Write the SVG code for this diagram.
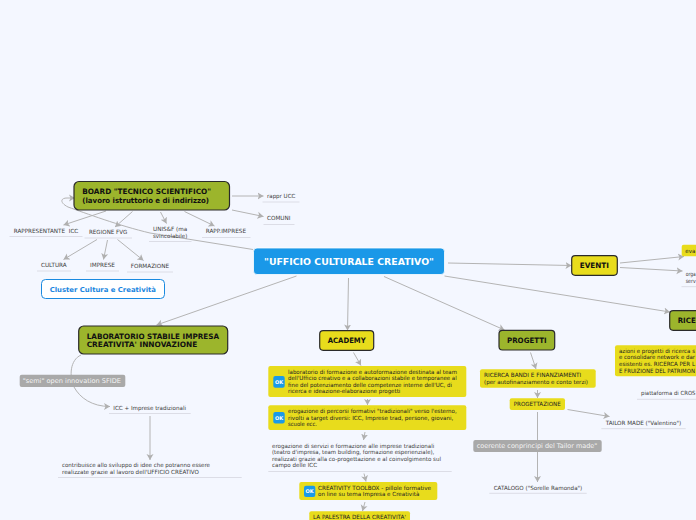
<svg xmlns="http://www.w3.org/2000/svg" width="696" height="520" viewBox="0 0 696 520">
<defs>
<marker id="a" markerUnits="userSpaceOnUse" markerWidth="7" markerHeight="8" refX="6" refY="4" orient="auto"><path d="M0 0.5L6 4L0 7.5L1.500 4Z" fill="#b0b0b0"/></marker>
</defs>
<style>
text{font-family:"DejaVu Sans",Verdana,sans-serif;font-size:5.7px;fill:#3c3c3c}
.b{font-weight:bold;fill:#111;font-size:7.400px}
.g{fill:#9cb52c;stroke:#2a2a2a;stroke-width:1.200}
.y{fill:#e8dc1c;stroke:#2a2a2a;stroke-width:1.200}
.s{fill:#e8dc1c}
.l{stroke:#dcdde6;stroke-width:1;fill:none}
.c{fill:none;stroke:#b4b4b4;stroke-width:1;marker-end:url(#a)}
.gr{fill:#a9a9a9}
.w{fill:#f4f4f4;font-size:6.600px}
.ok{fill:#1a9ae8}
.okt{fill:#fff;font-size:5px;font-weight:bold}
.d{fill:#222}
</style>
<rect width="696" height="520" fill="#f4f7ff"/>
<g id="connectors">
<path class="c" d="M253 249.500L150 233C120 226 85 213 68 207C60 203 60 198 67 198L75 198"/>
<path class="c" d="M232 196L263.500 196"/>
<path class="c" d="M232 210L263.500 216.500"/>
<path class="c" d="M106 211L63.500 225"/>
<path class="c" d="M132.500 211.500L115 227"/>
<path class="c" d="M160.500 212L166.500 223.500"/>
<path class="c" d="M184.500 211.500L214.500 226"/>
<path class="c" d="M97 239.500L63.500 259.500"/>
<path class="c" d="M107.500 240L103.500 259.500"/>
<path class="c" d="M117.500 239.500L143.500 260.500"/>
<path class="c" d="M296.500 276L156.500 325"/>
<path class="c" d="M348.500 278L347.500 330.500"/>
<path class="c" d="M384 276.500L504.500 330"/>
<path class="c" d="M448 263L571.500 265.500"/>
<path class="c" d="M444.500 276L670 312"/>
<path class="c" d="M620 263L684 256.500"/>
<path class="c" d="M620 267.500L682.500 271"/>
<path class="c" d="M81 355C70 360 69 376 74 387C80 398 92 406.500 110 406.500"/>
<path class="c" d="M150 416L150 460"/>
<path class="c" d="M353.500 352.500L361 365.500"/>
<path class="c" d="M367.500 399L367.500 405"/>
<path class="c" d="M365 432L363.500 440"/>
<path class="c" d="M364 473.500L366 481.500"/>
<path class="c" d="M365 502L362.500 511"/>
<path class="c" d="M530.500 352.500L536 369"/>
<path class="c" d="M537.500 390L537.500 398"/>
<path class="c" d="M567.500 409.500L609.500 416.500"/>
<path class="c" d="M537.500 412L537.500 482"/>
</g>
<g id="board"><rect class="g" x="74" y="181.500" width="155.500" height="28.500" rx="5"/><text class="b" x="82.300" y="194" textLength="128.700" lengthAdjust="spacingAndGlyphs">BOARD "TECNICO SCIENTIFICO"</text><text class="b" x="82.300" y="202.700" textLength="126.700" lengthAdjust="spacingAndGlyphs">(lavoro istruttorio e di indirizzo)</text></g>
<g id="rappr-icc"><path class="l" d="M9.500 236.500H82.500"/><text x="13.700" y="233" xml:space="preserve" textLength="64.600" lengthAdjust="spacingAndGlyphs">RAPPRESENTANTE  ICC</text></g>
<g id="regione"><path class="l" d="M84.500 238H132"/><text x="89" y="233.700" textLength="38.300" lengthAdjust="spacingAndGlyphs">REGIONE FVG</text></g>
<g id="unisf"><path class="l" d="M149 241.500H191.500"/><text x="153" y="231" textLength="34.300" lengthAdjust="spacingAndGlyphs">UNIS&amp;F (ma</text><text x="153" y="237.700" textLength="34.300" lengthAdjust="spacingAndGlyphs">svincolabile)</text></g>
<g id="rapp-imprese"><path class="l" d="M202 237.500H250.500"/><text x="205.700" y="233" textLength="40.300" lengthAdjust="spacingAndGlyphs">RAPP.IMPRESE</text></g>
<g id="rappr-ucc"><path class="l" d="M262.500 202H299.500"/><text x="267" y="198" textLength="28.300" lengthAdjust="spacingAndGlyphs">rappr UCC</text></g>
<g id="comuni"><path class="l" d="M263.500 224.500H294.500"/><text x="267" y="220" textLength="23.300" lengthAdjust="spacingAndGlyphs">COMUNI</text></g>
<g id="cultura"><path class="l" d="M37 271H71"/><text x="41" y="267" textLength="25.700" lengthAdjust="spacingAndGlyphs">CULTURA</text></g>
<g id="imprese"><path class="l" d="M86 271H119"/><text x="90" y="266.700" textLength="25" lengthAdjust="spacingAndGlyphs">IMPRESE</text></g>
<g id="formazione"><path class="l" d="M127 272H173"/><text x="130.700" y="267.700" textLength="38.300" lengthAdjust="spacingAndGlyphs">FORMAZIONE</text></g>
<g id="cluster"><rect x="41.500" y="279.500" width="123" height="19" rx="4" fill="#fff" stroke="#1a8ae0" stroke-width="1"/><text x="49.700" y="291.700" textLength="106.300" lengthAdjust="spacingAndGlyphs" style="font-weight:bold;font-size:6.800px;fill:#1a86e0">Cluster Cultura e Creatività</text></g>
<g id="root"><rect x="253.500" y="248" width="191" height="26.500" rx="3.500" fill="#1a98e8" stroke="#fff" stroke-width="0.800"/><text x="264" y="264.700" textLength="170" lengthAdjust="spacingAndGlyphs" style="font-weight:bold;font-size:8.800px;fill:#fff">"UFFICIO CULTURALE CREATIVO"</text></g>
<g id="laboratorio"><rect class="g" x="78.700" y="326" width="149" height="28" rx="5"/><text class="b" x="86.700" y="339" textLength="132.300" lengthAdjust="spacingAndGlyphs">LABORATORIO STABILE IMPRESA</text><text class="b" x="86.700" y="347" textLength="110.600" lengthAdjust="spacingAndGlyphs">CREATIVITA' INNOVAZIONE</text></g>
<g id="semi"><rect class="gr" x="19.700" y="374.700" width="105.600" height="12.300" rx="2"/><text class="w" x="22.700" y="383" textLength="98.300" lengthAdjust="spacingAndGlyphs">"semi" open innovation SFIDE</text></g>
<g id="icc-imprese"><path class="l" d="M109 413.500H190.700"/><text x="113.300" y="410" textLength="72.700" lengthAdjust="spacingAndGlyphs">ICC + Imprese tradizionali</text></g>
<g id="contribuisce"><path class="l" d="M58 477.500H241.700"/><text x="62" y="467" textLength="148" lengthAdjust="spacingAndGlyphs">contribuisce allo sviluppo di idee che potranno essere</text><text x="62" y="473.700" textLength="137" lengthAdjust="spacingAndGlyphs">realizzate grazie al lavoro dell'UFFICIO CREATIVO</text></g>
<g id="academy"><rect class="y" x="319.700" y="330.700" width="54" height="19.600" rx="3.500"/><text class="b" x="327.700" y="343" textLength="38" lengthAdjust="spacingAndGlyphs">ACADEMY</text></g>
<g id="a1"><rect class="s" x="268.300" y="366" width="198" height="31" rx="2"/><rect class="ok" x="273.300" y="376" width="11.400" height="11.700" rx="2"/><text class="okt" x="279" y="383.800" text-anchor="middle">OK</text><text class="d" x="288" y="374" textLength="169" lengthAdjust="spacingAndGlyphs">laboratorio di formazione e autoformazione destinata al team</text><text class="d" x="288" y="380" textLength="168.700" lengthAdjust="spacingAndGlyphs">dell'Ufficio creativo e a collaborazioni stabile e temporanee al</text><text class="d" x="288" y="386.700" textLength="164" lengthAdjust="spacingAndGlyphs">fine del potenziamento delle competenze interne dell'UC, di</text><text class="d" x="288" y="393" textLength="112.300" lengthAdjust="spacingAndGlyphs">ricerca e ideazione-elaborazione progetti</text></g>
<g id="a2"><rect class="s" x="268.300" y="405.300" width="198" height="24.700" rx="2"/><rect class="ok" x="273.300" y="412" width="11.400" height="11.400" rx="2"/><text class="okt" x="279" y="419.600" text-anchor="middle">OK</text><text class="d" x="288" y="413" textLength="168.700" lengthAdjust="spacingAndGlyphs">erogazione di percorsi formativi "tradizionali" verso l'esterno,</text><text class="d" x="288" y="419.700" textLength="165.300" lengthAdjust="spacingAndGlyphs">rivolti a target diversi: ICC, Imprese trad, persone, giovani,</text><text class="d" x="288" y="426" textLength="29" lengthAdjust="spacingAndGlyphs">scuole ecc.</text></g>
<g id="a3"><path class="l" d="M268.300 471.500H451.700"/><text x="272" y="448" textLength="162.300" lengthAdjust="spacingAndGlyphs">erogazione di servizi e formazione alle imprese tradizionali</text><text x="272" y="454.300" textLength="162.300" lengthAdjust="spacingAndGlyphs">(teatro d'impresa, team building, formazione esperienziale),</text><text x="272" y="460.700" textLength="169" lengthAdjust="spacingAndGlyphs">realizzati grazie alla co-progettazione e al coinvolgimento sul</text><text x="272" y="467" textLength="45" lengthAdjust="spacingAndGlyphs">campo delle ICC</text></g>
<g id="a4"><rect class="s" x="299.300" y="482" width="138" height="18" rx="2"/><rect class="ok" x="304" y="485.700" width="11.300" height="11.300" rx="2"/><text class="okt" x="309.600" y="493.200" text-anchor="middle">OK</text><text class="d" x="318" y="489.700" textLength="113" lengthAdjust="spacingAndGlyphs">CREATIVITY TOOLBOX - pillole formative</text><text class="d" x="318" y="496" textLength="101.300" lengthAdjust="spacingAndGlyphs">on line su tema Impresa e Creatività</text></g>
<g id="a5"><rect class="s" x="309.300" y="511.300" width="100.700" height="14" rx="2"/><text class="d" x="313" y="518.500" textLength="93" lengthAdjust="spacingAndGlyphs">LA PALESTRA DELLA CREATIVITA'</text></g>
<g id="progetti"><rect class="g" x="499" y="330.300" width="55.700" height="19.700" rx="3.500"/><text class="b" x="507" y="342.700" textLength="39.700" lengthAdjust="spacingAndGlyphs">PROGETTI</text></g>
<g id="ricerca-bandi"><rect class="s" x="480" y="369.300" width="115.700" height="18.400" rx="2"/><text class="d" x="484" y="377" textLength="97.300" lengthAdjust="spacingAndGlyphs">RICERCA BANDI E FINANZIAMENTI</text><text class="d" x="484" y="383.700" textLength="104" lengthAdjust="spacingAndGlyphs">(per autofinanziamento e conto terzi)</text></g>
<g id="progettazione"><rect class="s" x="509.700" y="398.300" width="55.300" height="11.700" rx="2"/><text class="d" x="513.700" y="406" textLength="47" lengthAdjust="spacingAndGlyphs">PROGETTAZIONE</text></g>
<g id="tailor"><path class="l" d="M601.300 428.700H685.700"/><text x="605.700" y="425" textLength="75.600" lengthAdjust="spacingAndGlyphs">TAILOR MADE ("Valentino")</text></g>
<g id="coerente"><rect class="gr" x="473.300" y="440" width="128.400" height="12" rx="2"/><text class="w" x="476.700" y="448" textLength="120.600" lengthAdjust="spacingAndGlyphs">coerente conprincipi del Tailor made"</text></g>
<g id="catalogo"><path class="l" d="M489.300 493.300H586.700"/><text x="493.700" y="490" textLength="88.600" lengthAdjust="spacingAndGlyphs">CATALOGO ("Sorelle Ramonda")</text></g>
<g id="eventi"><rect class="y" x="571.700" y="255.700" width="45.600" height="19.600" rx="3.500"/><text class="b" x="579.700" y="268.300" textLength="29.300" lengthAdjust="spacingAndGlyphs">EVENTI</text></g>
<g id="eva"><rect class="s" x="681.700" y="244.700" width="20" height="11.600" rx="2"/><text class="d" x="685.300" y="253" textLength="10" lengthAdjust="spacingAndGlyphs">eva</text></g>
<g id="org"><path class="l" d="M681.500 286.700H700"/><text x="685.700" y="276" textLength="10" lengthAdjust="spacingAndGlyphs">orga</text><text x="685.700" y="282.700" textLength="10" lengthAdjust="spacingAndGlyphs">serv</text></g>
<g id="ricerca"><rect class="g" x="669.700" y="310.700" width="40" height="19.600" rx="3.500"/><text class="b" x="677.700" y="322.700" textLength="18" lengthAdjust="spacingAndGlyphs">RICE</text></g>
<g id="azioni"><rect class="s" x="615" y="345.300" width="90" height="31" rx="2"/><text class="d" x="619" y="352.700" textLength="76" lengthAdjust="spacingAndGlyphs">azioni e progetti di ricerca s</text><text class="d" x="619" y="359.300" textLength="76" lengthAdjust="spacingAndGlyphs">e consolidare network e dar</text><text class="d" x="619" y="365.700" textLength="76" lengthAdjust="spacingAndGlyphs">esistenti es. RICERCA PER L</text><text class="d" x="619" y="372.700" textLength="76" lengthAdjust="spacingAndGlyphs">E FRUIZIONE DEL PATRIMON</text></g>
<g id="piattaforma"><path class="l" d="M637 399.300H700"/><text x="641" y="395" textLength="54.500" lengthAdjust="spacingAndGlyphs">piattaforma di CROS</text></g>
</svg>
